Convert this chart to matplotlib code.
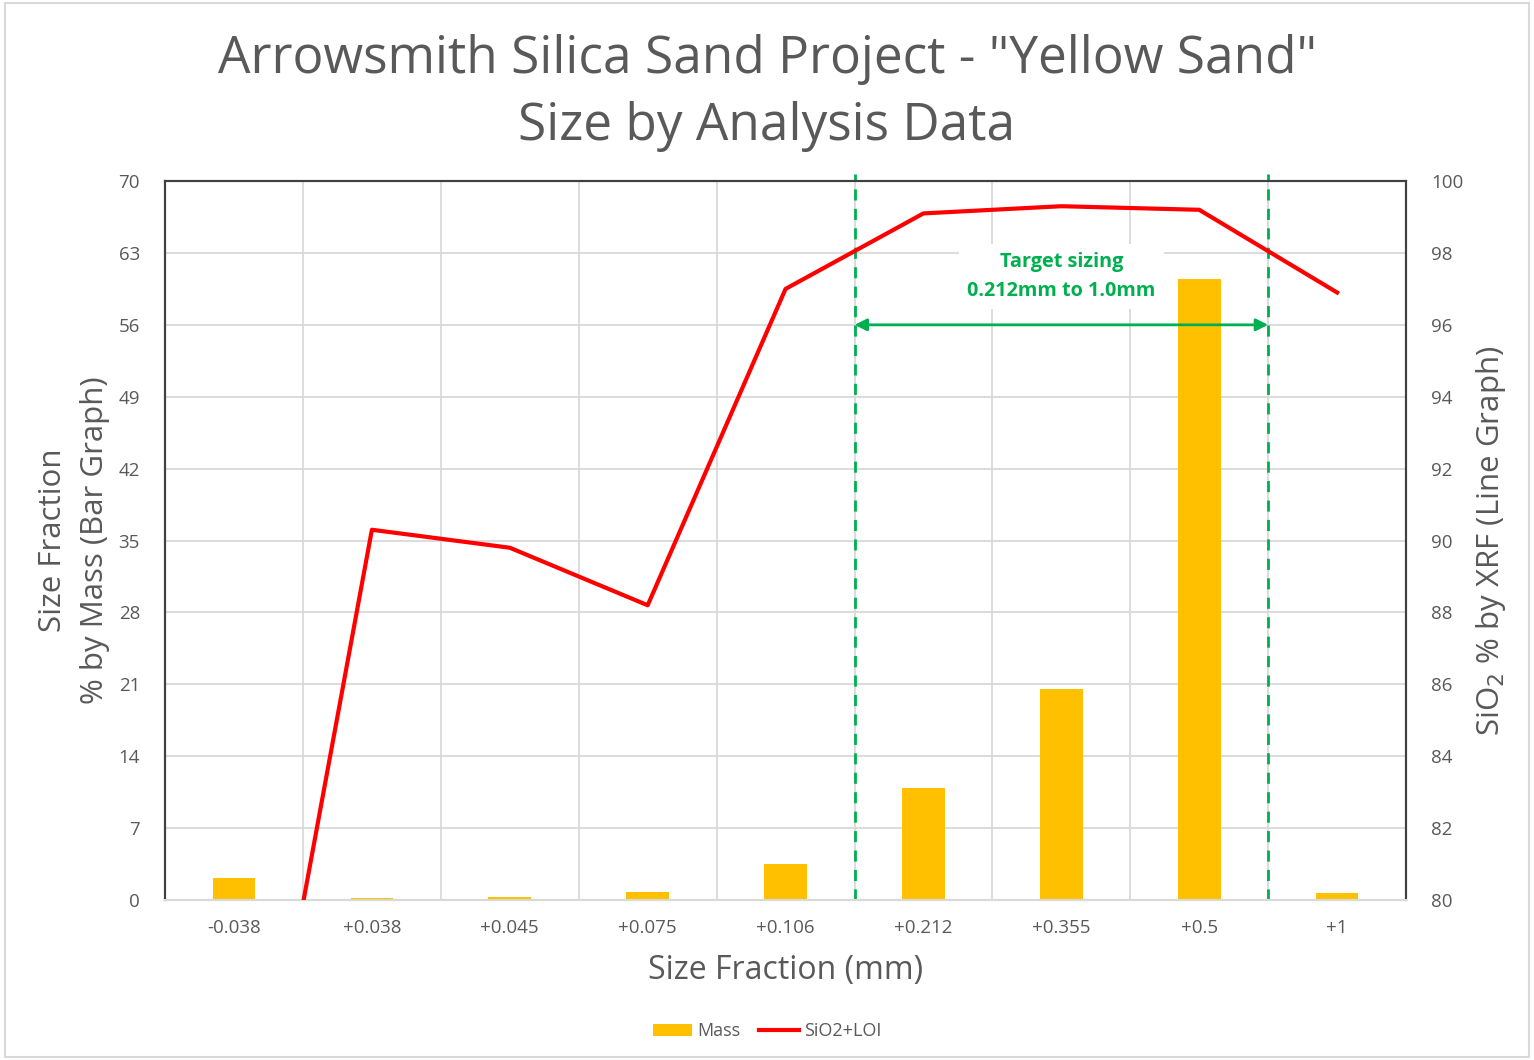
import matplotlib
matplotlib.use("Agg")
import matplotlib.pyplot as plt
from matplotlib.patches import Rectangle

plt.rcParams['font.family'] = ['Open Sans', 'DejaVu Sans']

categories = ["-0.038", "+0.038", "+0.045", "+0.075", "+0.106", "+0.212", "+0.355", "+0.5", "+1"]
mass = [2.1, 0.2, 0.3, 0.8, 3.5, 10.9, 20.5, 60.5, 0.7]
sio2_loi = [69.5, 90.3, 89.8, 88.2, 97.0, 99.1, 99.3, 99.2, 96.9]
left_ticks = [0, 7, 14, 21, 28, 35, 42, 49, 56, 63, 70]
right_ticks = [80, 82, 84, 86, 88, 90, 92, 94, 96, 98, 100]

GRAY = "#595959"
GRID = "#d9d9d9"
GREEN = "#00B050"
YELLOW = "#FFC000"
RED = "#FF0000"

fig = plt.figure(figsize=(15.34, 10.60), dpi=100)
ax = fig.add_axes([0.1076, 0.1509, 0.8090, 0.6783])
ax2 = ax.twinx()

x = list(range(len(categories)))
ax.bar(x, mass, width=0.31, color=YELLOW, zorder=3, label="Mass")
ax2.plot(x, sio2_loi, color=RED, lw=3, zorder=4, label="SiO2+LOI")

ax.set_xlim(-0.5, len(categories) - 0.5)
ax.set_ylim(0, 70)
ax2.set_ylim(80, 100)
ax.set_yticks(left_ticks)
ax2.set_yticks(right_ticks)
ax.set_xticks(x)
ax.set_xticklabels(categories)
ax.set_xticks([i + 0.5 for i in x[:-1]], minor=True)

ax.grid(axis='y', which='major', color=GRID, lw=1.3, zorder=0)
ax.grid(axis='x', which='minor', color=GRID, lw=1.3, zorder=0)
ax.grid(axis='x', which='major', visible=False)
ax.set_axisbelow(True)

for a in (ax, ax2):
    a.tick_params(axis='both', which='both', length=0, colors=GRAY, labelsize=13.5)
    for s in ('left', 'right', 'top'):
        a.spines[s].set_color("#404040")
        a.spines[s].set_linewidth(1.5)
    a.spines['bottom'].set_color(GRID)
    a.spines['bottom'].set_linewidth(1.5)
ax.tick_params(axis='y', pad=18)
ax2.tick_params(axis='y', pad=18)
ax.tick_params(axis='x', pad=14)

ax.set_xlabel("Size Fraction (mm)", fontsize=23, color=GRAY, labelpad=12)
ax.set_ylabel("Size Fraction\n% by Mass (Bar Graph)", fontsize=22.5, color=GRAY, labelpad=6, linespacing=1.55)
ax2.set_ylabel("SiO$_2$ % by XRF (Line Graph)", fontsize=22.5, color=GRAY, labelpad=8)

# target sizing annotation
for xv in (4.5, 7.5):
    ax.axvline(xv, ymin=0, ymax=1.01, color=GREEN, lw=2, ls=(0, (4, 3)), clip_on=False, zorder=5)
ax.annotate("", xy=(4.5, 56), xytext=(7.5, 56),
            arrowprops=dict(arrowstyle='<|-|>', color=GREEN, lw=2, mutation_scale=18,
                            shrinkA=0, shrinkB=0), zorder=5)
ax.text(6.0, 60.7, "Target sizing\n0.212mm to 1.0mm", color=GREEN, fontsize=14.3, fontweight='bold',
        ha='center', va='center', linespacing=1.55, zorder=6,
        bbox=dict(facecolor='white', edgecolor='none', pad=6))

fig.suptitle("Arrowsmith Silica Sand Project - \"Yellow Sand\"\nSize by Analysis Data",
             y=0.968, fontsize=37, color=GRAY, linespacing=1.42)

h1, l1 = ax.get_legend_handles_labels()
h2, l2 = ax2.get_legend_handles_labels()
fig.legend(h1 + h2, l1 + l2, loc='center', bbox_to_anchor=(0.5, 0.027), ncol=2, frameon=False,
           fontsize=13, labelcolor=GRAY, handlelength=2.2, columnspacing=1.0, handletextpad=0.3)

fig.patches.append(Rectangle((0.003, 0.003), 0.994, 0.994, transform=fig.transFigure,
                             fill=False, edgecolor=GRID, lw=1.5))

fig.savefig("out.png", dpi=100)
